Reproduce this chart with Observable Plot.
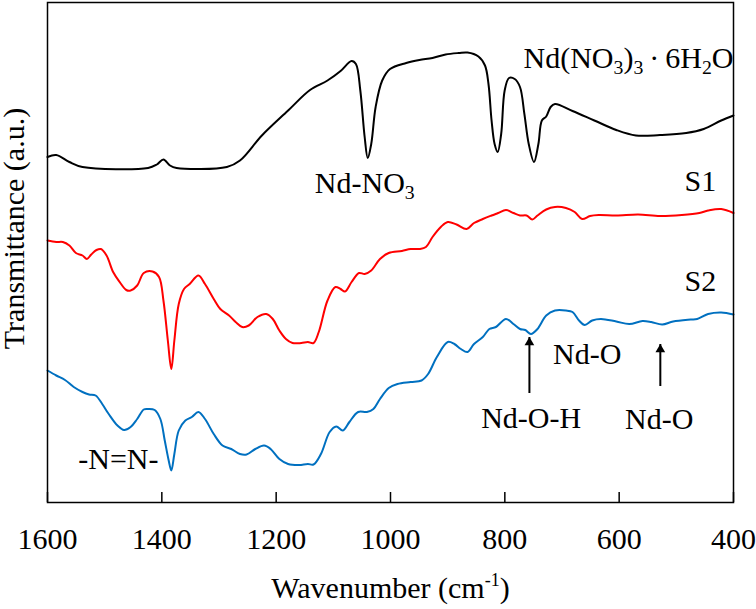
<!DOCTYPE html>
<html>
<head>
<meta charset="utf-8">
<script src="https://cdn.jsdelivr.net/npm/d3@7"></script>
<script src="https://cdn.jsdelivr.net/npm/@observablehq/plot@0.6"></script>
<style>
  html, body { margin: 0; padding: 0; background: #fff; }
  #chart svg { display: block; }
</style>
</head>
<body>
<div id="chart"></div>
<script>
// FTIR spectra: wavenumber (cm-1) vs. transmittance (arbitrary units, curves offset)

// Nd(NO3)3·6H2O reference salt
const saltWave = [1600,1584.7,1561.7,1538.8,1424,1408.7,1397.2,1385.7,1374.2,1286.2,1263.3,1225,1179.1,1140.8,1110.2,1087.3,1068.1,1060.5,1052.8,1045.2,1039.8,1033.7,1026,1014.5,1000.8,972.5,949.5,926.5,903.6,880.6,865.3,846.2,834.7,828.6,823.2,817.9,812.5,806.4,800.3,792.6,782.7,773.5,765.8,758.2,749,741.3,735.2,727.6,719.9,712.3,681.6,643.4,605.1,570.7,528.6,482.7,452.1,421.5,400];
const saltT = [69.1,69.5,68.1,67.1,66.9,67.6,68.6,67.4,66.9,67.1,68.4,73.4,78.4,82.5,84.4,86.3,88.3,87.7,82.4,73.1,68.9,71.7,79.1,84.4,86.7,87.9,88.5,88.9,89.6,89.9,90.0,89.2,87.4,83.7,76.4,71.7,70.1,73.7,82.4,84.9,84.7,83.1,77.7,71.7,68.1,71.7,76.4,77.2,79.1,79.7,78.3,76.4,74.5,73.4,73.5,73.9,74.7,76.4,77.4];

// Sample S1
const s1Wave = [1600,1584.7,1573.2,1561.7,1550.3,1538.8,1531.1,1523.5,1514.3,1506.6,1496.7,1485.2,1473.7,1462.2,1454.6,1443.1,1431.6,1416.3,1404.9,1397.2,1389.5,1383.4,1378.1,1370.4,1361.2,1351.3,1336,1324.5,1309.2,1297.7,1282.4,1270.9,1259.4,1248,1232.7,1217.3,1205.9,1194.4,1182.9,1171.4,1156.1,1144.6,1134.7,1125.5,1110.2,1096.4,1087.3,1079.6,1068.1,1055.1,1045.2,1033.7,1018.4,1003.1,980.1,964.8,949.5,938,926.5,911.2,899.8,884.4,866.8,853.9,838.5,823.2,811.7,798,785,773.5,762,752,742.9,727.6,712.3,693.1,677.8,664.8,651,635.7,605.1,566.9,528.6,490.3,459.7,444.4,421.5,400];
const s1T = [52.4,52.1,52.1,51.4,49.9,49.4,48.7,49.6,50.5,50.7,49.4,46.1,44.1,42.5,42.4,43.4,45.9,46.2,45.1,40.4,32.4,26.7,32.4,39.7,42.7,43.7,45.4,43.7,40.7,38.7,37.4,36.1,35.1,35.4,37.1,37.7,36.7,34.4,32.7,31.9,31.9,32.1,31.9,34.1,40.4,43.1,42.7,42.2,44.1,45.9,45.7,46.4,48.7,49.9,50.3,50.7,50.7,51.1,53.1,55.2,56.1,55.6,54.7,55.9,56.7,57.4,57.9,58.5,57.9,57.4,57.4,56.6,57.4,58.6,59.1,58.9,58.1,56.7,57.3,57.5,57.4,57.6,57.3,57.5,57.9,58.4,58.7,57.9];

// Sample S2
const s2Wave = [1600,1584.7,1569.4,1554.1,1538.8,1527.3,1515.8,1504.3,1492.9,1477.6,1466.1,1454.6,1443.1,1431.6,1424,1412.5,1402.6,1394.9,1388,1383.4,1378.1,1370.4,1358.9,1347.5,1336,1324.5,1309.2,1293.9,1278.6,1263.3,1251.8,1236.5,1221.2,1209.7,1194.4,1179.1,1160,1144.6,1134.7,1121.7,1106.4,1094.9,1083.4,1071.9,1056.6,1041.3,1029.9,1018.4,1003.1,987.8,964.8,945.7,934.2,918.9,899.8,888.3,876.8,865.3,853.9,838.5,827.1,815.6,798,785,773.5,764.3,754.3,742.9,727.6,712.3,693.1,681.6,670.2,660.2,647.2,631.9,605.1,582.2,559.2,543.9,524.7,505.6,475,463.5,444.4,421.5,400];
const s2T = [26.4,25.4,24.5,23.1,22.1,21.6,21.4,19.7,17.7,15.4,14.5,15.1,16.7,18.6,18.7,18.5,16.7,12.4,8.4,6.4,9.7,14.4,16.4,17.1,18.1,16.7,13.7,11.4,10.7,9.7,9.6,10.7,11.4,10.7,8.7,7.7,7.5,7.7,7.6,9.7,14.1,15.2,14.4,16.1,18.1,18.1,18.7,20.7,22.9,23.7,24.1,24.4,25.7,29.1,32.1,31.7,30.7,30.1,31.7,33.1,34.7,35.1,36.7,35.7,34.7,34.5,33.7,34.7,37.4,38.4,38.4,38.1,36.4,35.5,36.4,36.7,36.2,35.7,36.3,36.1,35.6,36.2,36.6,36.7,37.7,38.0,37.6];

// Axis ticks and plot extent
const xTicks = [1600, 1400, 1200, 1000, 800, 600, 400];
const xDomain = [1600, 400];
const yDomain = [0, 100];

// Curve name for the salt spectrum (written at the right end)
const saltLabel = "Nd(NO_3)_3\u2009·\u20096H_2O";
const saltLabelWave = 400;
const saltLabelT = 88.9;

// Band / curve annotations (wavenumber, transmittance, text)
const noteText = ["Nd-NO_3", "S1", "S2", "Nd-O", "Nd-O-H", "Nd-O", "-N=N-"];
const noteWave = [1045, 458, 458, 656, 754, 530, 1476];
const noteT = [63.9, 64.3, 44.3, 29.7, 16.9, 16.7, 8.7];

// Arrows pointing at Nd-O-H and Nd-O bands
const arrowWave = [757, 528];
const arrowFrom = [21.8, 23.2];
const arrowTo = [33.0, 31.6];

const W = 756, H = 609;
const margin = {top: 2, right: 23, bottom: 107, left: 47};
const plotH = H - margin.top - margin.bottom;
const serif = "'Liberation Serif', 'Times New Roman', Times, serif";

const toRows = (wave, t) => wave.map((w, i) => ({wave: w, t: t[i]}));
const notes = noteText.map((text, i) => ({text, wave: noteWave[i], t: noteT[i]}));
const arrows = arrowWave.map((w, i) => ({wave: w, from: arrowFrom[i], to: arrowTo[i]}));

const chart = Plot.plot({
  width: W,
  height: H,
  marginTop: margin.top,
  marginRight: margin.right,
  marginBottom: margin.bottom,
  marginLeft: margin.left,
  style: {fontFamily: serif, background: "#fff", color: "#000"},
  x: {domain: xDomain},
  y: {domain: yDomain, axis: null},
  marks: [
    Plot.line(toRows(saltWave, saltT), {x: "wave", y: "t", stroke: "#000000", strokeWidth: 2, curve: "catmull-rom"}),
    Plot.line(toRows(s1Wave, s1T), {x: "wave", y: "t", stroke: "#ff0000", strokeWidth: 2, curve: "catmull-rom"}),
    Plot.line(toRows(s2Wave, s2T), {x: "wave", y: "t", stroke: "#0070c0", strokeWidth: 2, curve: "catmull-rom"}),
    // inward tick marks on the bottom edge
    Plot.ruleX(xTicks, {stroke: "#000", strokeWidth: 1.5, insetTop: plotH - 10}),
    Plot.axisX(xTicks, {tickSize: 0, tickPadding: 25, fontSize: 30, tickFormat: d => String(d), label: null}),
    Plot.text(["Wavenumber (cm^{-1})"], {text: d => d, frameAnchor: "bottom", lineAnchor: "middle", textAnchor: "middle", dy: 86, fontSize: 30}),
    Plot.text(["Transmittance (a.u.)"], {text: d => d, frameAnchor: "left", textAnchor: "middle", lineAnchor: "middle", y: 54.8, rotate: -90, dx: -33, fontSize: 30}),
    Plot.text([saltLabel], {text: d => d, x: saltLabelWave, y: saltLabelT, textAnchor: "end", fontSize: 30}),
    Plot.text(notes, {x: "wave", y: "t", text: "text", textAnchor: "middle", fontSize: 30}),
    Plot.ruleX(arrows, {x: "wave", y1: "from", y2: "to", stroke: "#000", strokeWidth: 2}),
    Plot.dot(arrows, {x: "wave", y: "to", symbol: "triangle", r: 3.6, fill: "#000", stroke: null, dy: 5}),
    // box around the plot area, drawn on top of everything
    Plot.frame({stroke: "#000", strokeWidth: 1.5})
  ]
});

document.getElementById("chart").appendChild(chart);

// Turn _x / ^x markers into subscript / superscript tspans
function setRichText(root) {
  const ns = "http://www.w3.org/2000/svg";
  for (const t of root.querySelectorAll("text")) {
    const s = t.textContent;
    if (!/[_^]/.test(s) || t.children.length) continue;
    const fs = parseFloat(getComputedStyle(t).fontSize) || 30;
    t.textContent = "";
    let shift = 0;
    const re = /([_^])(?:\{([^}]*)\}|(.))|([^_^]+)/g;
    let m;
    while ((m = re.exec(s))) {
      const span = document.createElementNS(ns, "tspan");
      let target = 0, content;
      if (m[4] !== undefined) {
        content = m[4];
      } else {
        content = m[2] !== undefined ? m[2] : m[3];
        const sub = m[1] === "_";
        target = sub ? 0.2 * fs : -0.4 * fs;
        span.setAttribute("font-size", (sub ? 0.66 : 0.6) * fs);
      }
      if (target !== shift) { span.setAttribute("dy", target - shift); shift = target; }
      span.textContent = content;
      t.appendChild(span);
    }
  }
}
setRichText(chart);
</script>
</body>
</html>
